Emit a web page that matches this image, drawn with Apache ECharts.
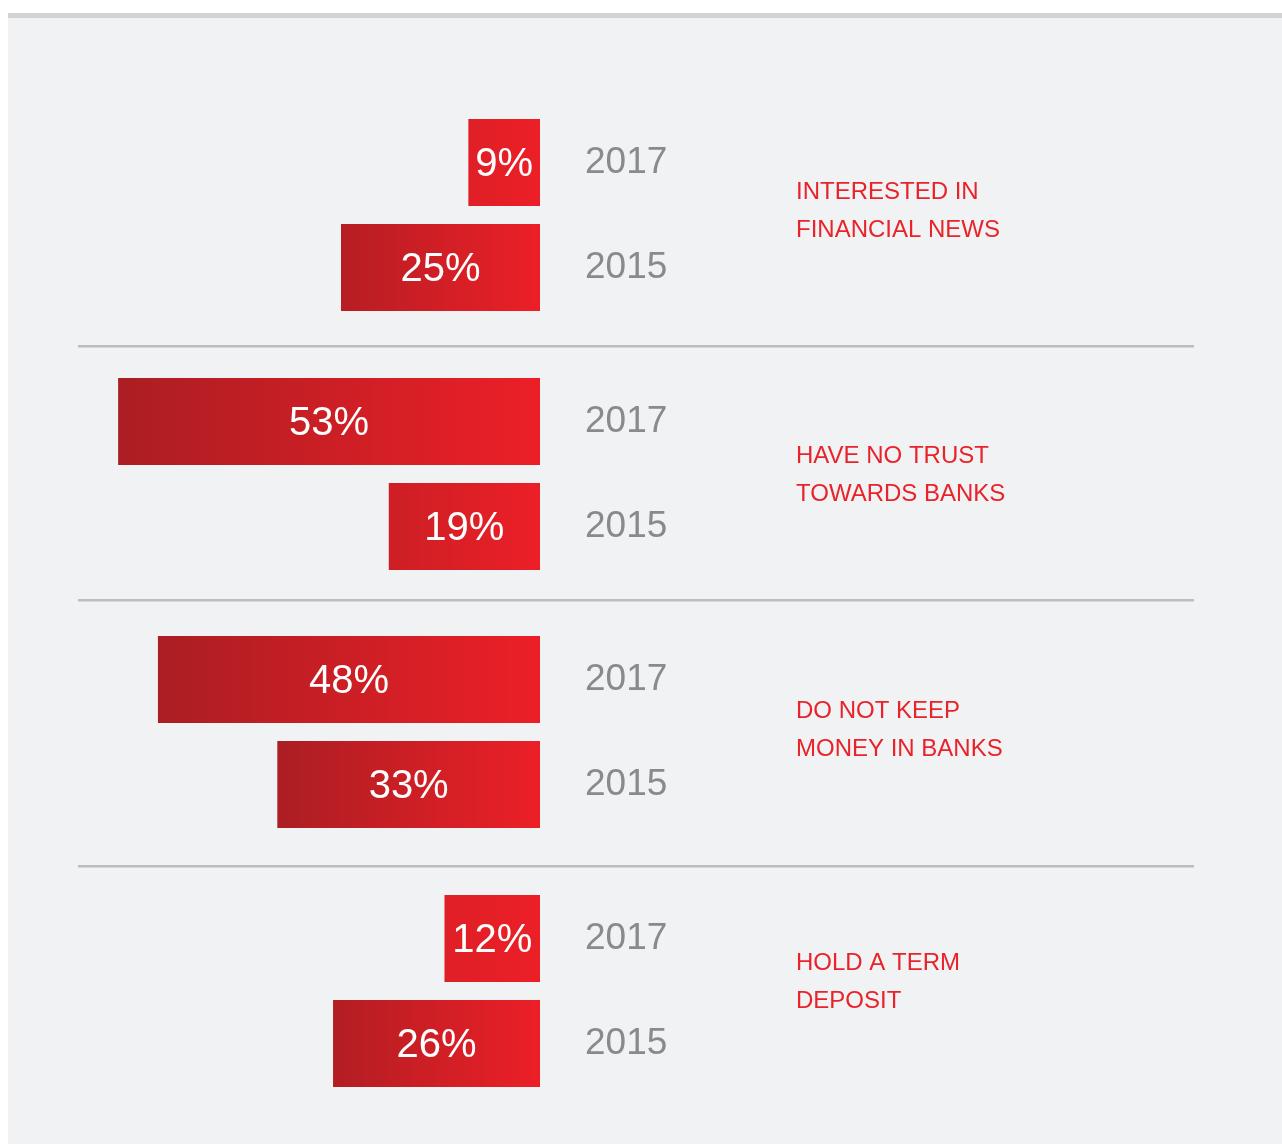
<!DOCTYPE html>
<html>
<head>
<meta charset="utf-8">
<style>
  html, body { margin: 0; padding: 0; background: #ffffff; }
  #chart { width: 1282px; height: 1144px; }
</style>
<script src="https://cdn.jsdelivr.net/npm/echarts@6/dist/echarts.min.js"></script>
</head>
<body>
<div id="chart"></div>
<script>
// ── Data ──────────────────────────────────────────────────────────────
const groupLabels = [
  'INTERESTED IN\nFINANCIAL NEWS',
  'HAVE NO TRUST\nTOWARDS BANKS',
  'DO NOT KEEP\nMONEY IN BANKS',
  'HOLD A TERM\nDEPOSIT'
];
const years = ['2017', '2015'];
const values2017 = [9, 53, 48, 12];
const values2015 = [25, 19, 33, 26];

// ── Layout / style ────────────────────────────────────────────────────
const FONT = '"Liberation Sans", Arial, Helvetica, sans-serif';
const RED = '#e8232a';
const GRID_TOPS = [110, 369, 627, 886];
const LABEL_TOPS = [173, 437, 692, 944];
const SEPARATORS_Y = [346, 600, 866];

function mixHex(a, b, t) {
  const pa = [1, 3, 5].map(i => parseInt(a.slice(i, i + 2), 16));
  const pb = [1, 3, 5].map(i => parseInt(b.slice(i, i + 2), 16));
  return '#' + pa.map((v, i) => Math.round(v + (pb[i] - v) * t).toString(16).padStart(2, '0')).join('');
}

// wider bars start darker at their left end
function barGradient(value) {
  const t = Math.min(0.8, Math.max(0, (28 - value) / 18));
  const start = mixHex('#ab1e23', '#ec1f27', t);
  return new echarts.graphic.LinearGradient(0, 0, 1, 0, [
    { offset: 0, color: start },
    { offset: 1, color: '#ec1f27' }
  ]);
}

const grids = [], xAxes = [], yAxes = [], series = [], titles = [];

groupLabels.forEach((label, i) => {
  grids.push({ left: 62.4, right: 742, top: GRID_TOPS[i], height: 210 });
  xAxes.push({
    gridIndex: i, type: 'value', min: 0, max: 60, inverse: true, show: false
  });
  yAxes.push({
    gridIndex: i, type: 'category', data: years, inverse: true, position: 'right',
    axisLine: { show: false }, axisTick: { show: false }, splitLine: { show: false },
    axisLabel: { margin: 45, color: '#8a8a8a', fontSize: 37, fontFamily: FONT }
  });
  series.push({
    type: 'bar',
    xAxisIndex: i, yAxisIndex: i,
    barWidth: 87,
    data: [values2017[i], values2015[i]].map(v => ({
      value: v,
      itemStyle: { color: barGradient(v) }
    })),
    label: {
      show: true, position: 'inside', formatter: '{c}%', offset: [0, 2],
      color: '#ffffff', fontSize: 40, fontFamily: FONT
    },
    silent: true
  });
  titles.push({
    text: label, left: 796, top: LABEL_TOPS[i], padding: 0,
    textStyle: { color: RED, fontSize: 24, fontWeight: 'normal', fontFamily: FONT, lineHeight: 38 }
  });
});

const graphics = [
  { type: 'rect', z: -10, shape: { x: 8, y: 13, width: 1274, height: 1131 }, style: { fill: '#f1f2f4' } },
  { type: 'rect', z: -9, shape: { x: 8, y: 13, width: 1274, height: 5 }, style: { fill: '#d2d3d5' } }
].concat(SEPARATORS_Y.map(y => ({
  type: 'rect', z: -9, shape: { x: 78, y: y - 1, width: 1116, height: 2.5 }, style: { fill: '#bdbdbd' }
})));

const chart = echarts.init(document.getElementById('chart'), null, { renderer: 'canvas' });
chart.setOption({
  animation: false,
  backgroundColor: '#ffffff',
  title: titles,
  grid: grids,
  xAxis: xAxes,
  yAxis: yAxes,
  series,
  graphic: graphics
});
</script>
</body>
</html>
